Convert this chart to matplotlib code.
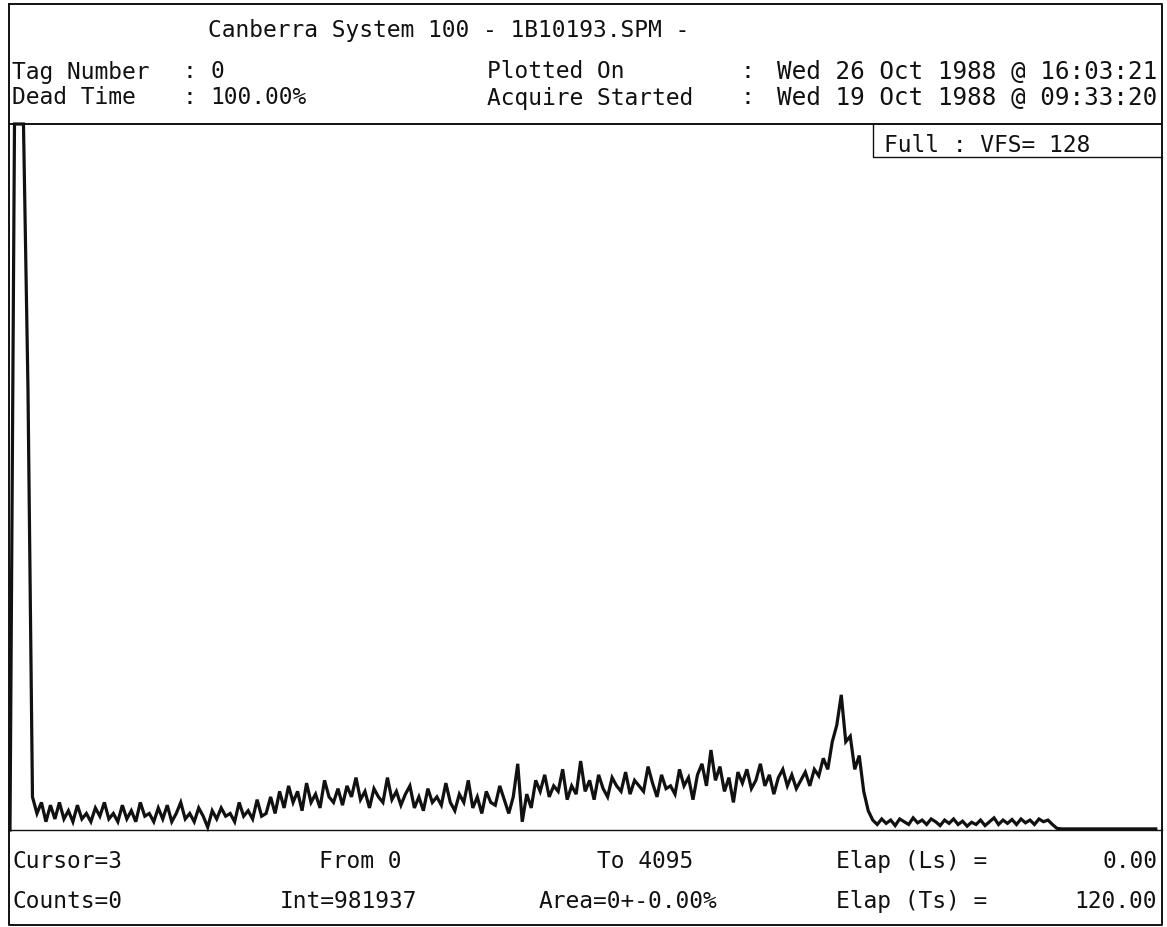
import numpy as np
import matplotlib
matplotlib.use("Agg")
import matplotlib.pyplot as plt

# ---------------- data ----------------
CHANNEL_STEP = 16          # channels per plotted sample (4096 channels total)
VFS = 128                  # vertical full scale

peak_counts = [0, 128, 128, 128, 80, 6]
low_bg_counts = [
    3, 5, 1.5, 4.5, 2, 5, 2, 3.5, 1.5, 4.5,
    2, 3, 1.5, 4, 2.5, 5, 2, 3, 1.5, 4.5, 2, 3.5, 1.5, 5, 2.5, 3,
    1.5, 4, 2, 4.5, 1.5, 3, 5, 2, 3, 1.5, 4, 2.5, 0.5, 3.5, 2, 4,
    2.5, 3, 1.5, 5, 2.5, 3.5, 2, 5.5, 2.5, 3, 6, 3, 7, 4, 8, 5,
]
mid_bg_counts = [
    7, 3.5, 8.5, 5, 6.5, 4, 9, 6, 5, 7.5, 4.5, 8, 6, 9.5, 5.5, 7,
    4, 7.5, 6, 5, 9.5, 5.5, 7, 4.5, 6.5, 8, 4, 6, 3.5, 7.5, 5, 6,
    4.5, 8.5, 5, 3.5, 6.5, 5, 9, 4, 6, 3, 7, 5, 4.5, 8, 5.5, 3,
]
high_bg_counts = [
    6, 12, 1.5, 6.5, 4, 9, 7, 10, 6, 8, 7, 11, 5.5, 8, 6.5, 12.5,
    7, 9, 5.5, 10, 7.5, 6, 9.5, 8, 7, 10.5, 6.5, 9, 8, 7, 11.5, 8.5,
    6, 10, 7.5, 8, 6.5, 11, 8, 9.5, 5.5, 10, 12, 8, 14.5, 9, 11.5, 7,
    9.5, 5, 10.5, 8.5, 11, 7.5, 9, 12, 8, 10, 6.5, 9.5, 11, 8, 10, 7.5,
    9, 10.5, 8, 11,
]
edge_peak_counts = [9.8, 13, 11, 16, 19, 24.5, 16, 17, 11, 13.5, 7, 3.5]
tail_counts = [
    1.8, 1, 2, 1.2, 1.8, 0.8, 2, 1.5, 1, 2.2, 1.3, 1.8, 1, 2, 1.5, 0.8,
    1.8, 1.2, 2, 1, 1.6, 0.7, 1.4, 1, 1.8, 0.8, 1.5, 2.2, 1, 1.8, 1.2, 1.9,
    1, 2, 1.3, 1.8, 1, 2, 1.5, 1.8, 1,
]
empty_counts = [0.3, 0.2, 0.2, 0.2, 0.2, 0.2, 0.2, 0.2, 0.2, 0.2, 0.2,
                0.2, 0.2, 0.2, 0.2, 0.2, 0.2, 0.2, 0.2, 0.2, 0.2, 0.2, 0.2]

counts = np.array(peak_counts + low_bg_counts + mid_bg_counts + high_bg_counts
                  + edge_peak_counts + tail_counts + empty_counts, dtype=float)
channels = np.arange(len(counts)) * CHANNEL_STEP

title = "Canberra System 100 - 1B10193.SPM -"
hdr_left = [("Tag Number", "0"), ("Dead Time", "100.00%")]
hdr_right = [("Plotted On", "Wed 26 Oct 1988 @ 16:03:21"),
             ("Acquire Started", "Wed 19 Oct 1988 @ 09:33:20")]
vfs_label = "Full : VFS= 128"
foot_row1 = ["Cursor=3", "From 0", "To 4095", "Elap (Ls) =", "0.00"]
foot_row2 = ["Counts=0", "Int=981937", "Area=0+-0.00%", "Elap (Ts) =", "120.00"]

# ---------------- figure ----------------
W, H = 1167, 928
fig = plt.figure(figsize=(W / 100, H / 100), dpi=100)
fig.patch.set_facecolor("white")

ov = fig.add_axes([0, 0, 1, 1])
ov.set_xlim(0, W)
ov.set_ylim(H, 0)
ov.axis("off")

FL, FR, FT, FB = 9, 1162, 5, 926     # outer frame
HDR_Y = 125                          # header separator
BASE_Y = 831                         # spectrum baseline / footer separator
ink = "#111111"
lw = 1.4

ov.plot([FL, FR, FR, FL, FL], [FT, FT, FB, FB, FT], color=ink, lw=lw)
ov.plot([FL, FR], [HDR_Y, HDR_Y], color=ink, lw=lw)
ov.plot([FL, FR], [BASE_Y, BASE_Y], color=ink, lw=1.0)
# VFS box
ov.plot([873, 873, FR], [HDR_Y, 158, 158], color=ink, lw=1.0)

font = dict(family="DejaVu Sans Mono", fontsize=16.5, color=ink, va="center")
date_font = dict(font, fontsize=17.5)

ov.text(208, 30, title, ha="left", **font)
for (lab, val), y in zip(hdr_left, [72, 98]):
    ov.text(12, y, lab, ha="left", **font)
    ov.text(183, y, ":", ha="left", **font)
    ov.text(210, y, val, ha="left", **font)
for (lab, val), y in zip(hdr_right, [72, 98]):
    ov.text(487, y, lab, ha="left", **font)
    ov.text(740, y, ":", ha="left", **font)
    ov.text(1157, y, val, ha="right", **date_font)
ov.text(884, 146, vfs_label, ha="left", **font)

foot_pos = [(12, "left"), (360, "center"), (645, "center"), (836, "left"), (1157, "right")]
foot_pos2 = [(12, "left"), (348, "center"), (628, "center"), (836, "left"), (1157, "right")]
for txt, (x, ha) in zip(foot_row1, foot_pos):
    ov.text(x, 862, txt, ha=ha, **font)
for txt, (x, ha) in zip(foot_row2, foot_pos2):
    ov.text(x, 902, txt, ha=ha, **font)

# ---------------- spectrum ----------------
x0, x1 = 10, 1160
ax = fig.add_axes([x0 / W, (H - BASE_Y) / H, (x1 - x0) / W, (BASE_Y - HDR_Y) / H])
ax.set_xlim(0, 4095)
ax.set_ylim(0, VFS)
ax.axis("off")
ax.patch.set_alpha(0)
ax.plot(channels, np.minimum(counts, VFS), color=ink, lw=2.3, clip_on=False,
        solid_joinstyle="miter")

fig.savefig("out.png", dpi=100, facecolor="white")
